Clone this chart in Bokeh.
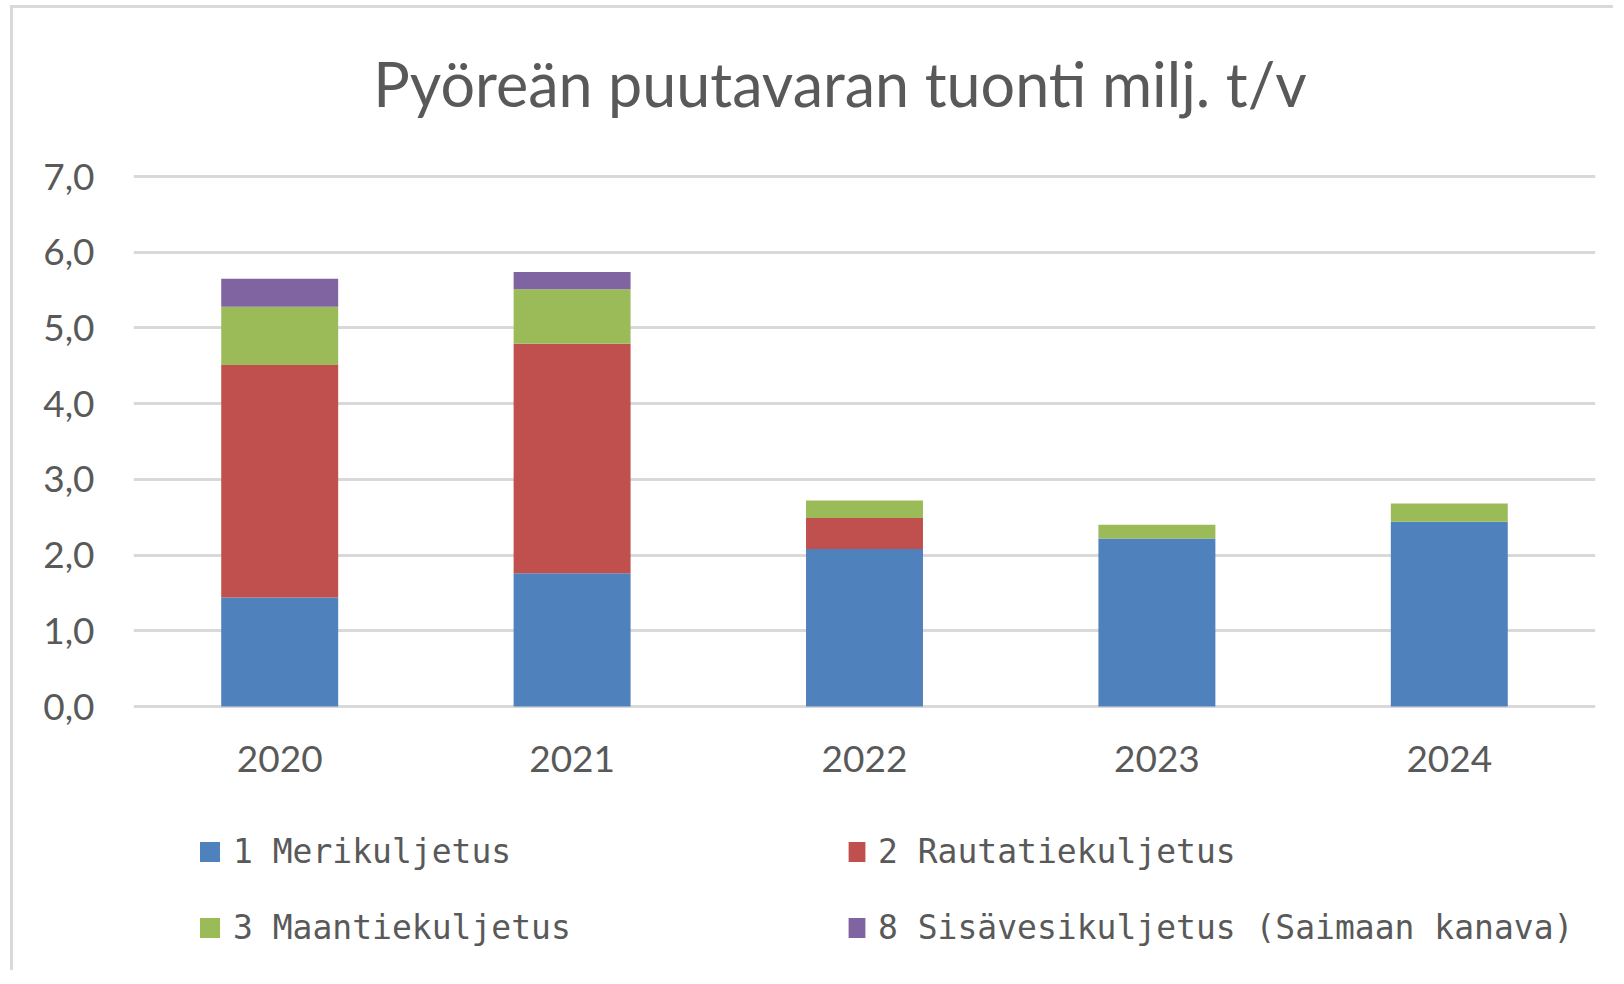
from bokeh.plotting import figure
from bokeh.models import Legend, LegendItem, FixedTicker, ColumnDataSource, Label
from bokeh.core.properties import value
from bokeh.embed import file_html
from bokeh.resources import INLINE

years = ["2020", "2021", "2022", "2023", "2024"]
meri = [1.44, 1.76, 2.08, 2.22, 2.44]
rauta = [3.07, 3.03, 0.41, 0.0, 0.0]
maantie = [0.77, 0.72, 0.23, 0.18, 0.24]
sisavesi = [0.37, 0.23, 0.0, 0.0, 0.0]
series_names = ["1 Merikuljetus", "2 Rautatiekuljetus", "3 Maantiekuljetus",
                "8 Sisävesikuljetus (Saimaan kanava)"]
colors = ["#4f81bd", "#c0504d", "#9bbb59", "#8064a2"]
yticks = [0, 1, 2, 3, 4, 5, 6, 7]
title_text = "Pyöreän puutavaran tuonti milj. t/v"

TXT = "#595959"

src = ColumnDataSource({"year": years, "s1": meri, "s2": rauta, "s3": maantie,
                        "s4": sisavesi})

# The frame covers the whole canvas (title, category labels and legend live
# inside it); the value scale is 75.714 px per unit with 0 at page y=706.
PX_PER_UNIT = 75.714
FRAME_H = 962
Y_TOP = (706 - 8) / PX_PER_UNIT
y_bottom = Y_TOP - FRAME_H / PX_PER_UNIT

p = figure(x_range=years, y_range=(y_bottom, Y_TOP), width=1603, height=965,
           output_backend="svg", toolbar_location=None,
           min_border_left=120, min_border_right=21, min_border_top=0,
           min_border_bottom=3,
           styles={"border-left": "3px solid #d9d9d9", "border-top": "3px solid #d9d9d9",
                   "margin-left": "10px", "margin-top": "5px"})
p.outline_line_color = None
p.background_fill_color = "white"
p.border_fill_color = "white"

rs = p.vbar_stack(["s1", "s2", "s3", "s4"], x="year", width=0.4, color=colors,
                  line_color=None, source=src)

# chart title
p.add_layout(Label(x=2.416, y=(706 - 83) / PX_PER_UNIT, text=title_text,
                   text_font="Lato", text_font_size="61px", text_color=TXT,
                   text_align="center", text_baseline="middle"))

# category labels under the bars
p.text(x="year", y=-0.70, text="year", source=src, text_font=value("Lato"),
       text_font_size=value("37px"), text_color=TXT, text_align="center",
       text_baseline="middle")

p.xaxis.visible = False
p.xgrid.grid_line_color = None
p.ygrid.grid_line_color = "#d9d9d9"
p.ygrid.grid_line_width = 3
p.yaxis.ticker = FixedTicker(ticks=yticks)
p.yaxis.major_label_overrides = {t: f"{t},0" for t in yticks}
ax = p.yaxis
ax.axis_line_color = None
ax.major_tick_line_color = None
ax.minor_tick_line_color = None
ax.major_label_text_font = "Lato"
ax.major_label_text_font_size = "37px"
ax.major_label_text_color = TXT
ax.major_label_standoff = 33

def make_legend(idx, loc, gw):
    items = [LegendItem(label=series_names[i], renderers=[rs[i]]) for i in idx]
    lg = Legend(items=items, location=loc, orientation="vertical",
                glyph_width=gw, glyph_height=25, label_standoff=11,
                label_height=40, spacing=36, padding=0, margin=0,
                border_line_color=None, background_fill_alpha=0,
                label_text_font="DejaVu Sans Mono", label_text_font_size="33px",
                label_text_color=TXT, label_text_baseline="middle")
    p.add_layout(lg, "center")

make_legend([0, 2], (64, 23), 25)
make_legend([1, 3], (713, 23), 21)

open("out.html", "w").write(file_html(p, INLINE))
